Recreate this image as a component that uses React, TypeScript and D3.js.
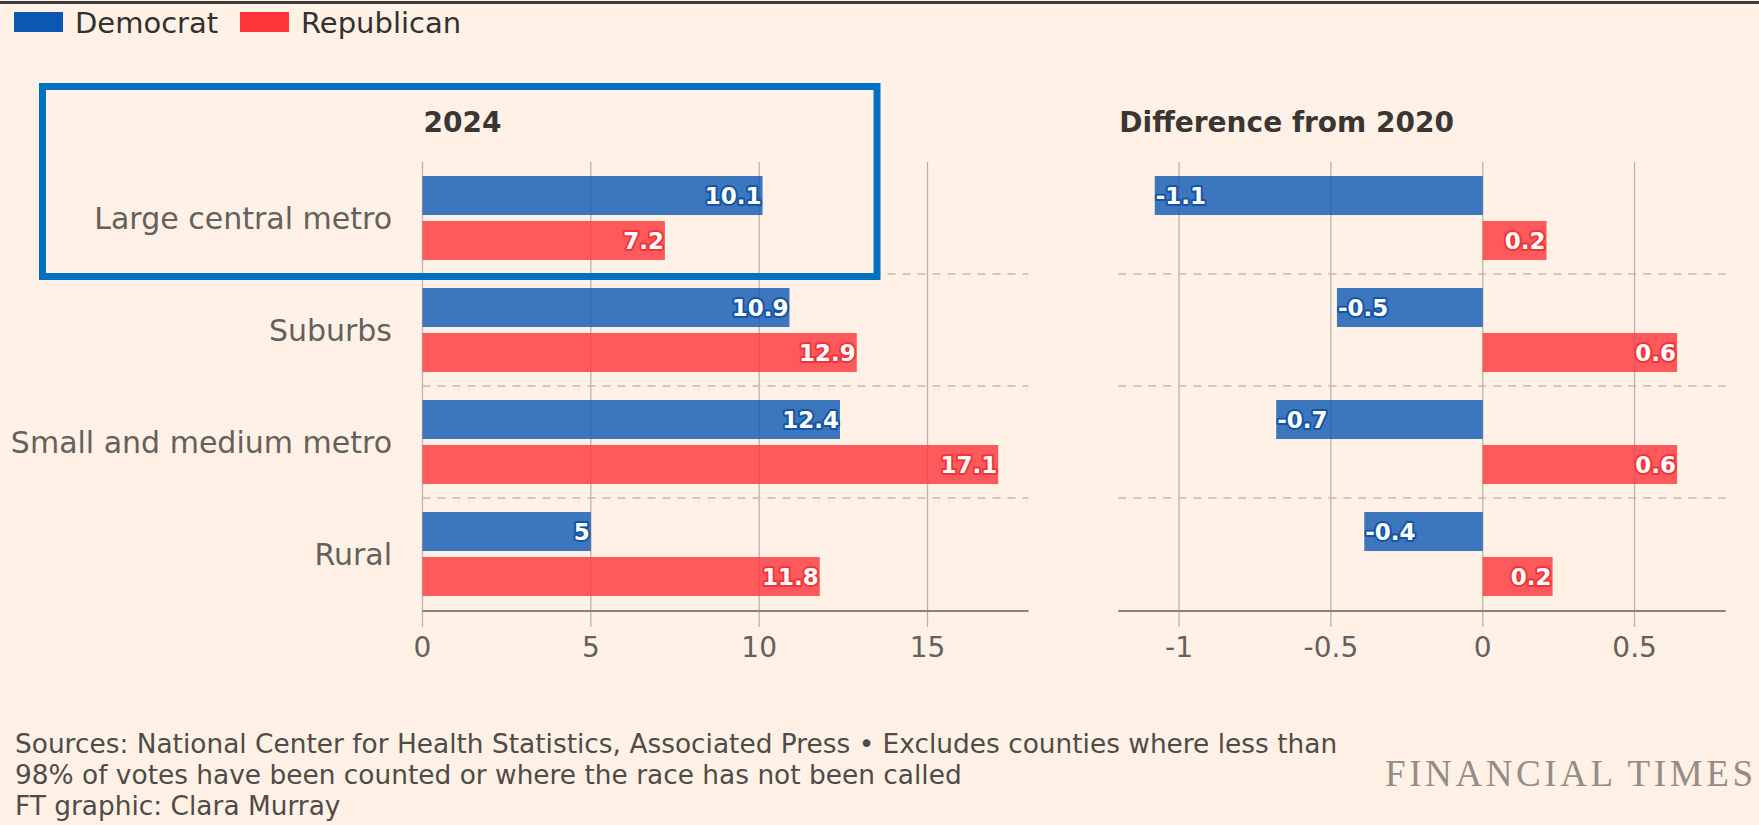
import React from "react";
import * as d3 from "d3";

// Share of votes by county type, US presidential election
const categories = ["Large central metro", "Suburbs", "Small and medium metro", "Rural"];
const parties = ["Democrat", "Republican"];
const dem2024 = [10.1, 10.9, 12.4, 5];
const rep2024 = [7.2, 12.9, 17.1, 11.8];
const demDiff = [-1.08, -0.48, -0.68, -0.39];
const repDiff = [0.21, 0.64, 0.64, 0.23];
const ticks2024 = [0, 5, 10, 15];
const ticksDiff = [-1, -0.5, 0, 0.5];
const panelTitles = ["2024", "Difference from 2020"];
const sourceLines = [
  "Sources: National Center for Health Statistics, Associated Press \u2022 Excludes counties where less than",
  "98% of votes have been counted or where the race has not been called",
  "FT graphic: Clara Murray",
];

const W = 1759;
const H = 825;
const BG = "#fff1e5";
const partyColor = ["#0b57b2", "#ff3538"];
const haloColor = ["#1553a6", "#f2343a"];
const FONT = "'DejaVu Sans', sans-serif";
const GRID = "#bdb2a9";
const TEXT = "#66605c";

const loc = d3.formatLocale({
  decimal: ".",
  thousands: ",",
  grouping: [3],
  currency: ["$", ""],
  minus: "-",
});
const tickFmt = loc.format("~g");
const valueFmt = loc.format(".1~f");

const yBand = d3.scaleBand<string>().domain(categories).range([162, 610]);
const yParty = d3
  .scaleBand<string>()
  .domain(parties)
  .range([14, yBand.bandwidth() - 14])
  .paddingInner(0.1333);
const axisY = 611;

type PanelProps = {
  title: string;
  domain: [number, number];
  range: [number, number];
  ticks: number[];
  series: number[][];
  showLabels: boolean;
};

const Panel: React.FC<PanelProps> = ({ title, domain, range, ticks, series, showLabels }) => {
  const x = d3.scaleLinear().domain(domain).range(range);
  const x0 = x(0);
  return (
    <g>
      <text
        x={range[0] + 1}
        y={132}
        fontFamily={FONT}
        fontSize={28}
        fontWeight={700}
        fill="#3a3633"
      >
        {title}
      </text>
      {ticks.map((t) => (
        <g key={t}>
          <line x1={x(t)} x2={x(t)} y1={162} y2={axisY + 16} stroke={GRID} strokeWidth={1.3} />
          <text
            x={x(t)}
            y={657}
            textAnchor="middle"
            fontFamily={FONT}
            fontSize={28}
            fill={TEXT}
          >
            {tickFmt(t)}
          </text>
        </g>
      ))}
      {categories.slice(1).map((c) => (
        <line
          key={c}
          x1={range[0]}
          x2={range[1]}
          y1={yBand(c)!}
          y2={yBand(c)!}
          stroke="#c4b9b0"
          strokeWidth={1.5}
          strokeDasharray="8 7"
        />
      ))}
      {categories.map((c, i) => (
        <g key={c} transform={`translate(0,${yBand(c)})`}>
          {showLabels && (
            <text
              x={392}
              y={yBand.bandwidth() / 2}
              dy="0.35em"
              textAnchor="end"
              fontFamily={FONT}
              fontSize={30}
              fill={TEXT}
            >
              {c}
            </text>
          )}
          {parties.map((p, j) => {
            const v = series[j][i];
            const xv = x(v);
            const y = yParty(p)!;
            return (
              <g key={p}>
                <rect
                  x={Math.min(x0, xv)}
                  y={y}
                  width={Math.abs(xv - x0)}
                  height={yParty.bandwidth()}
                  fill={partyColor[j]}
                  opacity={0.8}
                />
                <text
                  x={v >= 0 ? xv - 1 : xv + 1}
                  y={y + yParty.bandwidth() / 2}
                  dy="0.36em"
                  textAnchor={v >= 0 ? "end" : "start"}
                  fontFamily={FONT}
                  fontSize={23}
                  fontWeight={700}
                  fill="#ffffff"
                  stroke={haloColor[j]}
                  strokeWidth={4}
                  strokeLinejoin="round"
                  paintOrder="stroke"
                >
                  {valueFmt(v)}
                </text>
              </g>
            );
          })}
        </g>
      ))}
      <line x1={range[0]} x2={range[1]} y1={axisY} y2={axisY} stroke="#8a837d" strokeWidth={2} />
    </g>
  );
};

export default function App() {
  const legendX = [14, 240];
  const firstBand = yBand(categories[0])!;
  return (
    <svg
      width={W}
      height={H}
      style={{ position: "absolute", left: 0, top: 0 }}
    >
      <rect width={W} height={H} fill={BG} />
      <rect x={0} y={1} width={W} height={3} fill="#3d3b3a" />

      {parties.map((p, j) => (
        <g key={p} transform={`translate(${legendX[j]},12)`}>
          <rect width={49} height={20} fill={partyColor[j]} />
          <text x={61} y={21} fontFamily={FONT} fontSize={29} fill="#33302e">
            {p}
          </text>
        </g>
      ))}

      <Panel
        title={panelTitles[0]}
        domain={[0, 18]}
        range={[422.5, 1028.5]}
        ticks={ticks2024}
        series={[dem2024, rep2024]}
        showLabels={true}
      />
      <Panel
        title={panelTitles[1]}
        domain={[-1.2, 0.8]}
        range={[1118.3, 1725.7]}
        ticks={ticksDiff}
        series={[demDiff, repDiff]}
        showLabels={false}
      />

      {sourceLines.map((s, i) => (
        <text key={i} x={15} y={753 + i * 31} fontFamily={FONT} fontSize={26.4} fill="#504b47">
          {s}
        </text>
      ))}
      <text
        x={1385}
        y={786}
        fontFamily="'Liberation Serif', serif"
        fontSize={37}
        letterSpacing={3.6}
        fill="#958c85"
      >
        FINANCIAL TIMES
      </text>

      <rect
        x={42.5}
        y={86.5}
        width={834.5}
        height={firstBand + yBand.bandwidth() + 2.5 - 86.5}
        fill="none"
        stroke="#0070c0"
        strokeWidth={7}
      />
    </svg>
  );
}
